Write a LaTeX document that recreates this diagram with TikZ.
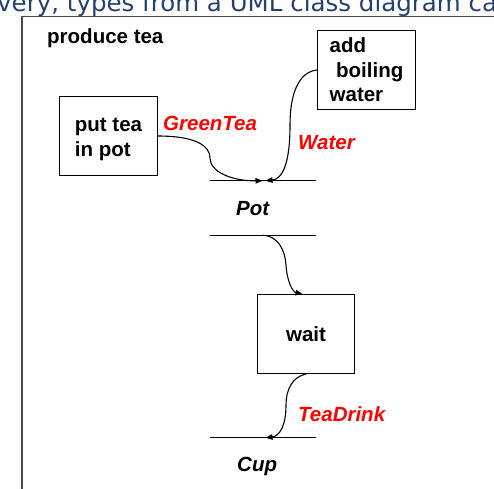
\documentclass[tikz,border=0pt]{standalone}
\usepackage{fontspec}
\setmainfont{Liberation Sans}
\newfontfamily\linkfont{DejaVu Sans}
\usetikzlibrary{arrows.meta}

\definecolor{linkblue}{HTML}{24406E}
\definecolor{framegray}{HTML}{4A4A4A}
\definecolor{flowred}{HTML}{FF0000}

\tikzset{
  x=1pt, y=-1pt,
  actbox/.style={draw=black, line width=1pt, minimum width=98pt, minimum height=79pt,
    inner sep=0pt, align=left, font=\bfseries\fontsize{20.5}{24.5}\selectfont},
  objnode/.style={minimum width=106pt, minimum height=54pt, inner sep=0pt},
  objline/.style={black, line width=1pt},
  objname/.style={anchor=base west, inner sep=0pt, font=\bfseries\itshape\fontsize{20.5}{24}\selectfont},
  pinname/.style={anchor=base west, inner sep=0pt, text=flowred, font=\bfseries\itshape\fontsize{20.5}{24}\selectfont},
  flow/.style={line width=1.1pt, -{Triangle[length=7pt,width=5.5pt]}},
  frameline/.style={framegray, line width=1.2pt},
}

\begin{document}
\begin{tikzpicture}
\useasboundingbox (0,0) rectangle (494,488);
\clip (0,0) rectangle (494,488);

% running text above the diagram frame (only its lower part shows)
\node[anchor=base west, inner sep=0pt, text=linkblue,
      font=\linkfont\fontsize{24.5}{28}\selectfont] (linktext) at (-3,11.5)
      {very, types from a UML class diagram can};

% activity frame
\coordinate (frameTL) at (22,16.5);
\coordinate (frameTR) at (500,16.5);
\coordinate (frameBL) at (22,495);
\draw[frameline] (frameTR) -- (frameTL) -- (frameBL);
\node[anchor=base west, inner sep=0pt, font=\bfseries\fontsize{20.5}{24}\selectfont]
      (title) at (47,43) {produce tea};

% actions
\node[actbox, anchor=north west] (puttea) at (59,96) {\rule{0pt}{20pt}put tea\\in pot};
\node[actbox, anchor=north west] (addwater) at (317,30)
      {add\\\hspace*{6.5pt}boiling\\water};
\node[actbox, anchor=north west, minimum width=97pt, align=center] (wait) at (257,294) {wait};

% object nodes
\node[objnode] (pot) at (263,208) {};
\draw[objline] (pot.north west) -- (pot.north east);
\draw[objline] (pot.south west) -- (pot.south east);
\node[objname] (potname) at (236,215) {Pot};

\node[objnode] (cup) at (263,465) {};
\draw[objline] (cup.north west) -- (cup.north east);
\draw[objline] (cup.south west) -- (cup.south east);
\node[objname] (cupname) at (237,471.5) {Cup};

% pin labels
\node[pinname] (greentea) at (163,130) {GreenTea};
\node[pinname] (waterlbl) at (298,149) {Water};
\node[pinname] (teadrink) at (298,421.5) {TeaDrink};

% object flows
\draw[flow] (puttea.east) .. controls (196,136) and (210,146) .. (210,158)
            .. controls (210,172) and (232,181) .. ([xshift=-0.5pt]pot.north);
\draw[flow] (addwater.west) .. controls (298,72) and (290,95) .. (290,125)
            .. controls (290,165) and (282,179) .. ([xshift=2.5pt]pot.north);
\draw[flow] (pot.south) .. controls (278,236) and (285,250) .. (286,265)
            .. controls (287,282) and (293,292) .. ([xshift=-3.5pt]wait.north);
\draw[flow] (wait.south) .. controls (292,377) and (286,390) .. (286,405)
            .. controls (286,425) and (280,436) .. ([xshift=2.5pt]cup.north);
\end{tikzpicture}
\end{document}
